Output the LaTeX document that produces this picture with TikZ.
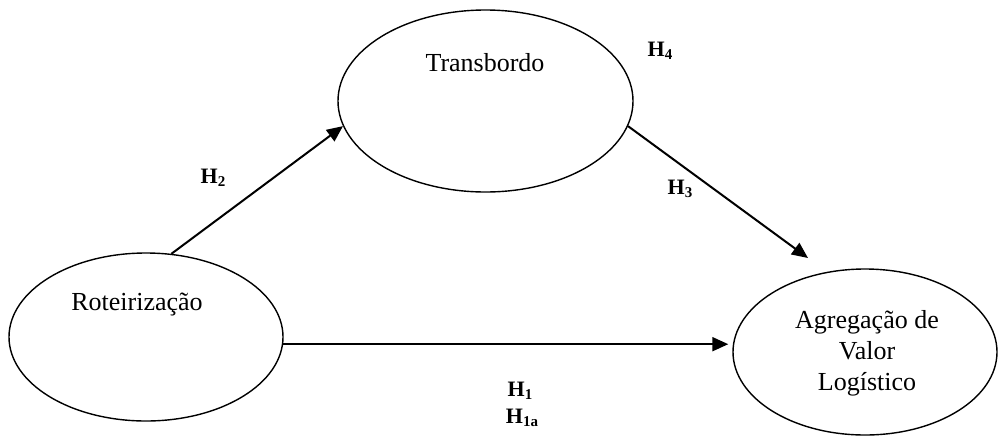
\documentclass[tikz,border=0pt]{standalone}
\usepackage{fontspec}
\setmainfont{Liberation Serif}
\usetikzlibrary{shapes.geometric,arrows.meta}
\tikzset{
  oval/.style={ellipse, draw, line width=1.4pt, inner sep=0pt},
  lbl/.style={font=\fontsize{26}{31}\selectfont, align=center, inner sep=0pt},
  hyp/.style={font=\fontsize{22}{25}\selectfont\bfseries, inner sep=0pt},
  conn/.style={line width=2pt, -{Triangle[length=16pt,width=14pt]}}
}
\newcommand{\hsub}[1]{\raisebox{-0.12em}{\fontsize{15}{17}\selectfont\bfseries #1}}
\begin{document}
\begin{tikzpicture}[x=1pt,y=-1pt]
\useasboundingbox (0,0) rectangle (998,437);
% ellipses
\node[oval, minimum width=295pt, minimum height=182pt] (T) at (485.5,101) {};
\node[oval, minimum width=274pt, minimum height=168pt] (R) at (146,337) {};
\node[oval, minimum width=264pt, minimum height=166pt] (A) at (865,352) {};
% texts
\node[lbl] (tT) at (485,63) {Transbordo};
\node[lbl] (tR) at (137,305) {Roteirização};
\node[lbl] (tA) at (867,353) {Agregação de\\Valor\\Logístico};
% connectors
\coordinate (h3tip) at (808,258);
\draw[conn] (R.73) -- (T.190);
\draw[conn] (T.-10) -- (h3tip);
\coordinate (h1s) at (R.-3);
\draw[conn, shorten >=4pt] (h1s) -- (h1s -| A.west);
% hypothesis labels
\node[hyp] (H2) at (213,178) {H\hsub{2}};
\node[hyp] (H4) at (660,51) {H\hsub{4}};
\node[hyp] (H3) at (680,189) {H\hsub{3}};
\node[hyp] (H1) at (520,391) {H\hsub{1}};
\node[hyp] (H1a) at (522,418) {H\hsub{1a}};
\end{tikzpicture}
\end{document}
